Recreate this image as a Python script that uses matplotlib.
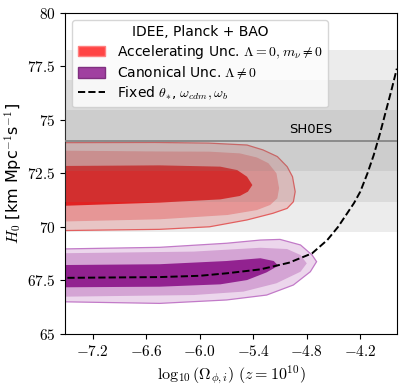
import matplotlib
matplotlib.use('Agg')
import matplotlib.pyplot as plt
from matplotlib.patches import Patch
from matplotlib.lines import Line2D

plt.rcParams['mathtext.fontset'] = 'cm'

# SH0ES measurement
sh0es_mean = 74.03
sh0es_sigma = 1.42

# contour outlines (closed polygons, x = log10 Omega, y = H0)
acc_outer_x = [-7.6, -6.5, -5.9, -5.47, -5.29, -5.13, -5.02, -4.96, -4.93, -4.95, -5.02, -5.18, -5.47, -5.89, -6.45, -7.6]
acc_outer_y = [73.94, 73.95, 73.92, 73.83, 73.60, 73.29, 72.82, 72.35, 71.65, 71.18, 70.87, 70.64, 70.33, 70.01, 69.89, 69.83]
acc_mid_x = [-7.6, -6.5, -5.89, -5.55, -5.36, -5.23, -5.14, -5.11, -5.13, -5.21, -5.36, -5.69, -6.45, -7.6]
acc_mid_y = [73.57, 73.53, 73.52, 73.44, 73.25, 72.98, 72.51, 71.81, 71.34, 71.03, 70.79, 70.56, 70.36, 70.25]
acc_in_x = [-7.6, -6.45, -5.77, -5.58, -5.47, -5.41, -5.46, -5.55, -5.77, -6.45, -7.6]
acc_in_y = [72.85, 72.88, 72.82, 72.66, 72.35, 71.96, 71.65, 71.45, 71.29, 71.14, 70.98]

can_outer_x = [-7.6, -6.45, -5.70, -5.32, -5.10, -4.87, -4.74, -4.69, -4.76, -4.95, -5.25, -5.70, -6.45, -7.6]
can_outer_y = [68.97, 69.05, 69.24, 69.39, 69.42, 69.16, 68.69, 68.38, 67.91, 67.29, 66.82, 66.59, 66.43, 66.51]
can_mid_x = [-7.6, -6.07, -5.32, -5.02, -4.87, -4.80, -4.87, -5.14, -5.51, -6.07, -7.6]
can_mid_y = [68.77, 68.85, 69.03, 68.97, 68.69, 68.30, 67.91, 67.37, 66.98, 66.82, 66.74]
can_in_x = [-7.6, -6.45, -5.70, -5.32, -5.17, -5.12, -5.25, -5.47, -5.77, -6.45, -7.6]
can_in_y = [68.22, 68.26, 68.41, 68.54, 68.41, 68.19, 67.88, 67.52, 67.32, 67.21, 67.18]

# fixed theta_*, omega_cdm, omega_b curve
fixed_x = [-7.6, -6.45, -6.0, -5.69, -5.32, -5.0, -4.74, -4.57, -4.45, -4.35, -4.27, -4.2, -4.12, -4.05, -3.98, -3.92, -3.85, -3.79]
fixed_y = [67.62, 67.66, 67.72, 67.84, 68.02, 68.33, 68.77, 69.39, 70.0, 70.62, 71.12, 71.65, 72.5, 73.35, 74.35, 75.3, 76.4, 77.4]

xticks = [-7.2, -6.6, -6.0, -5.4, -4.8, -4.2]
yticks = [65, 67.5, 70, 72.5, 75, 77.5, 80]


def main():
    fig = plt.figure(figsize=(4.07, 3.89), dpi=100)
    ax = fig.add_axes([0.160, 0.1414, 0.815, 0.8252])

    # accelerating (red)
    ax.fill(acc_outer_x, acc_outer_y, facecolor='#fbd2d2', edgecolor='#f45a5a', lw=0.9, zorder=1)
    ax.fill(acc_mid_x, acc_mid_y, facecolor='#f99a9a', lw=0, zorder=1.1)
    ax.fill(acc_in_x, acc_in_y, facecolor='#f21212', lw=0, zorder=1.2)

    # canonical (purple)
    ax.fill(can_outer_x, can_outer_y, facecolor='#ecd6ec', edgecolor='#c27ac8', lw=0.9, zorder=1)
    ax.fill(can_mid_x, can_mid_y, facecolor='#d4a4d4', lw=0, zorder=1.1)
    ax.fill(can_in_x, can_in_y, facecolor='#922290', lw=0, zorder=1.2)

    # SH0ES bands
    for k in [1, 2, 3]:
        ax.axhspan(sh0es_mean - k * sh0es_sigma, sh0es_mean + k * sh0es_sigma,
                   color='gray', alpha=0.15, lw=0, zorder=3)
    ax.axhline(sh0es_mean, color='gray', lw=1.2, zorder=3.5)
    ax.text(-4.76, sh0es_mean + 0.2, 'SH0ES', ha='center', va='bottom', fontsize=9.5, zorder=4)

    ax.plot(fixed_x, fixed_y, 'k--', lw=1.4, zorder=4)

    ax.set_xlim(-7.51, -3.79)
    ax.set_ylim(65, 80)
    ax.set_xticks(xticks)
    ax.set_xticklabels([f'${t:.1f}$' for t in xticks])
    ax.set_yticks(yticks)
    ax.set_yticklabels([f'${t:g}$' for t in yticks])
    ax.tick_params(labelsize=11)

    ax.set_xlabel(r'$\log_{10}(\Omega_{\phi,i})\ (z=10^{10})$', fontsize=11.5, labelpad=3)
    ax.set_ylabel(r'$H_0$ [km Mpc$^{-1}$s$^{-1}$]', fontsize=11.5, labelpad=2)

    handles = [
        Patch(facecolor='#ff4444', edgecolor='#ff8080', label=r'Accelerating Unc. $\Lambda=0, m_\nu\neq 0$'),
        Patch(facecolor='#a040a0', edgecolor='#803080', label=r'Canonical Unc. $\Lambda\neq 0$'),
        Line2D([], [], color='k', ls='--', lw=1.4, label=r'Fixed $\theta_{*}$, $\omega_{cdm}, \omega_b$'),
    ]
    ax.legend(handles=handles, loc='upper left', title='IDEE, Planck + BAO',
              fontsize=10, title_fontsize=10, labelspacing=0.25, handleheight=0.8)

    fig.savefig('out.png', dpi=100)


if __name__ == '__main__':
    main()
